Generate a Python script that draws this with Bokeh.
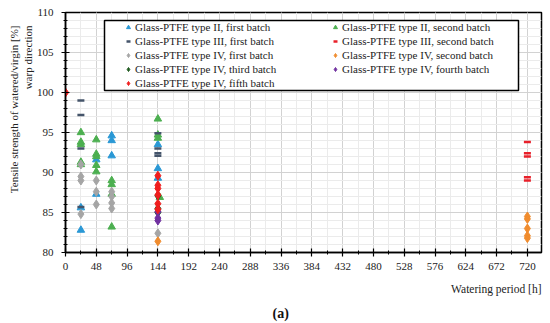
from bokeh.plotting import figure
from bokeh.models import (SingleIntervalTicker, Legend, LegendItem, Range1d, Title,
                          BoxAnnotation)
from bokeh.embed import file_html
from bokeh.resources import INLINE

# ---- data (watering period [h], tensile strength ratio [%]) ----
ii_first_t = [24, 24, 48, 48, 72, 72, 72, 144, 144, 144]
ii_first_v = [85.6, 82.8, 91.6, 87.3, 94.6, 94.0, 92.1, 93.5, 90.5, 89.3]

ii_second_t = [24, 24, 24, 24, 24, 48, 48, 48, 48, 48, 72, 72, 72, 72, 144, 144, 144, 147]
ii_second_v = [95.0, 93.8, 93.5, 91.3, 91.0, 94.1, 92.3, 92.0, 90.9, 90.1, 89.0, 88.5, 87.3, 83.2, 96.7, 94.7, 94.3, 86.9]

iii_first_t = [24, 24, 24, 24, 144, 144, 144, 144]
iii_first_v = [99.0, 97.2, 93.0, 85.7, 94.9, 93.0, 92.4, 92.1]

iii_second_t = [720, 720, 720, 720, 720]
iii_second_v = [93.8, 92.4, 92.0, 89.4, 89.0]

iv_first_t = [24, 24, 24, 24, 48, 48, 48, 72, 72, 72, 72, 144]
iv_first_v = [91.0, 89.5, 89.0, 84.8, 89.0, 87.6, 86.0, 87.6, 87.0, 86.2, 85.5, 82.4]

iv_second_t = [144, 720, 720, 720, 720, 720]
iv_second_v = [81.4, 84.5, 84.2, 83.0, 82.1, 81.8]

iv_third_t = [144, 144, 144]
iv_third_v = [87.1, 85.5, 85.0]

iv_fourth_t = [144, 144, 144]
iv_fourth_v = [85.1, 84.3, 84.0]

iv_fifth_t = [0, 144, 144, 144, 144, 144, 144]
iv_fifth_v = [100.0, 89.6, 88.4, 88.0, 87.2, 86.1, 85.4]

labels = [
    "Glass-PTFE type II, first batch",
    "Glass-PTFE type II, second batch",
    "Glass-PTFE type III, first batch",
    "Glass-PTFE type III, second batch",
    "Glass-PTFE type IV, first batch",
    "Glass-PTFE type IV, second batch",
    "Glass-PTFE type IV, third batch",
    "Glass-PTFE type IV, fourth batch",
    "Glass-PTFE type IV, fifth batch",
]

FONT = "Liberation Serif"
TXT = "#222222"

p = figure(width=550, height=323, output_backend="svg", toolbar_location=None,
           x_range=Range1d(0, 742), y_range=Range1d(80, 110),
           min_border_left=65, min_border_right=9, min_border_top=12, min_border_bottom=71)
p.background_fill_color = "white"
p.border_fill_color = "white"
p.outline_line_color = "black"
p.outline_line_width = 1.5

p.xaxis.ticker = SingleIntervalTicker(interval=48, num_minor_ticks=2)
p.yaxis.ticker = SingleIntervalTicker(interval=5, num_minor_ticks=5)
for ax in (p.xaxis[0], p.yaxis[0]):
    ax.axis_line_color = "black"
    ax.axis_line_width = 1.5
    ax.major_tick_line_color = "black"
    ax.major_tick_line_width = 1.2
    ax.major_tick_in = 4
    ax.major_tick_out = 4
    ax.minor_tick_line_color = "black"
    ax.minor_tick_in = 2
    ax.minor_tick_out = 2
    ax.major_label_text_font = FONT
    ax.major_label_text_font_size = "11px"
    ax.major_label_text_color = TXT
p.xaxis.major_label_standoff = 6
p.yaxis.major_label_standoff = 8

p.xgrid.grid_line_color = "#d2d2d2"
p.ygrid.grid_line_color = "#d2d2d2"
p.xgrid.minor_grid_line_color = "#ebebeb"
p.ygrid.minor_grid_line_color = "#ebebeb"

series = [
    (ii_first_t, ii_first_v, "triangle", "#2A98D5", 7.5),
    (ii_second_t, ii_second_v, "triangle", "#4CAF50", 7.5),
    (iii_first_t, iii_first_v, "dash", "#44546A", 7),
    (iii_second_t, iii_second_v, "dash", "#E8202A", 7),
    (iv_first_t, iv_first_v, "diamond", "#A5A5A5", 9),
    (iv_second_t, iv_second_v, "diamond", "#F08C2E", 9),
    (iv_third_t, iv_third_v, "diamond", "#1F5A1F", 9),
    (iv_fourth_t, iv_fourth_v, "diamond", "#7030A0", 9),
    (iv_fifth_t, iv_fifth_v, "diamond", "#F01E1E", 9),
]

items = []
for (t, v, marker, color, size), lab in zip(series, labels):
    lw = 2.5 if marker == "dash" else 1
    r = p.scatter(t, v, marker=marker, size=size, fill_color=color,
                  line_color=color, line_width=lw)
    items.append(LegendItem(label=lab, renderers=[r]))

# legend frame (screen units relative to the plot frame)
box = BoxAnnotation(left=39, right=453, bottom=162, top=232,
                    left_units="screen", right_units="screen",
                    bottom_units="screen", top_units="screen",
                    fill_color="white", fill_alpha=1.0,
                    line_color="black", line_width=1.5, line_alpha=1.0)
p.add_layout(box)


def make_legend(its, loc):
    lg = Legend(items=its, location=loc, orientation="vertical")
    lg.border_line_color = None
    lg.background_fill_alpha = 0
    lg.label_text_font = FONT
    lg.label_text_font_size = "11px"
    lg.label_text_color = TXT
    lg.glyph_width = 10
    lg.glyph_height = 14
    lg.label_height = 14
    lg.label_standoff = 2
    lg.spacing = 0
    lg.padding = 0
    lg.margin = 0
    return lg


p.add_layout(make_legend(items[0::2], (58, 162)), "center")
p.add_layout(make_legend(items[1::2], (265, 176)), "center")

# axis titles as layout panels
p.add_layout(Title(text="warp direction", align="right", text_font=FONT,
                   text_font_size="11px", text_font_style="normal",
                   text_color=TXT, standoff=0, offset=13), "left")
p.add_layout(Title(text="Tensile strength of watered/virgin [%]", align="right",
                   text_font=FONT, text_font_size="11px", text_font_style="normal",
                   text_color=TXT, standoff=0, offset=13), "left")
p.add_layout(Title(text="Watering period [h]", align="right", text_font=FONT,
                   text_font_size="11.5px", text_font_style="normal",
                   text_color=TXT, standoff=17, offset=0), "below")
p.add_layout(Title(text="(a)", align="left", text_font=FONT, offset=207,
                   text_font_size="14px", text_font_style="bold",
                   text_color="#111111", standoff=0), "below")

open("out.html", "w").write(file_html(p, INLINE))
